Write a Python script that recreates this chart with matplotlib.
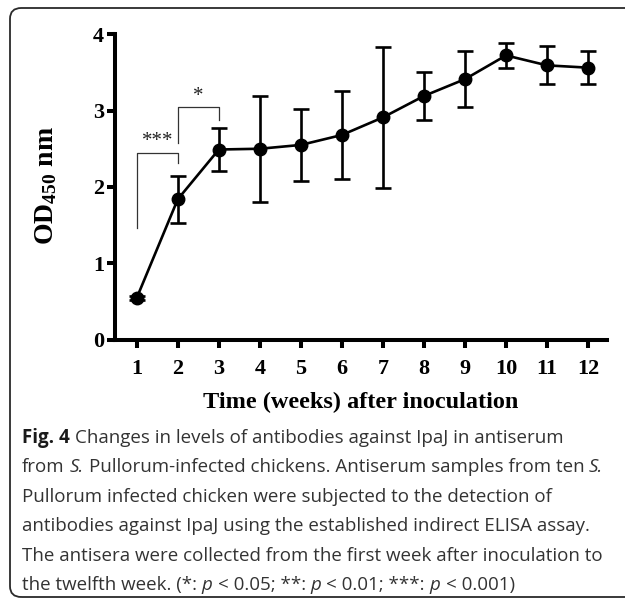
import matplotlib
matplotlib.use("Agg")
import matplotlib.pyplot as plt
from matplotlib.patches import FancyBboxPatch

# data
weeks = [1, 2, 3, 4, 5, 6, 7, 8, 9, 10, 11, 12]
od_mean = [0.55, 1.84, 2.49, 2.50, 2.55, 2.68, 2.91, 3.19, 3.41, 3.72, 3.59, 3.56]
od_err = [0.03, 0.31, 0.28, 0.69, 0.47, 0.58, 0.92, 0.31, 0.37, 0.16, 0.25, 0.22]
y_ticks = [0, 1, 2, 3, 4]

# significance brackets: (left week, right week, label, top, left leg end, right leg end)
sig_left = [1, 2]
sig_right = [2, 3]
sig_labels = ["***", "*"]
sig_top = [2.45, 3.04]
sig_left_end = [1.46, 2.57]
sig_right_end = [2.31, 2.87]

caption_lines = [
    [("Fig. 4", "bold"), (" Changes in levels of antibodies against IpaJ in antiserum", "normal")],
    [("from ", "normal"), ("S.", "italic"),
     (" Pullorum-infected chickens. Antiserum samples from ten ", "normal"), ("S.", "italic")],
    [("Pullorum infected chicken were subjected to the detection of", "normal")],
    [("antibodies against IpaJ using the established indirect ELISA assay.", "normal")],
    [("The antisera were collected from the first week after inoculation to", "normal")],
    [("the twelfth week. (*: ", "normal"), ("p", "italic"), (" < 0.05; **: ", "normal"),
     ("p", "italic"), (" < 0.01; ***: ", "normal"), ("p", "italic"), (" < 0.001)", "normal")],
]

W, H = 625, 599
plt.rcParams["mathtext.fontset"] = "custom"
plt.rcParams["mathtext.rm"] = "Liberation Serif:bold"
plt.rcParams["mathtext.bf"] = "Liberation Serif:bold"
plt.rcParams["mathtext.it"] = "Liberation Serif:bold"

fig = plt.figure(figsize=(W / 100, H / 100), dpi=100)
fig.patch.set_facecolor("white")


def px(x, y):
    return x / W, 1 - y / H


# rounded frame around the figure + caption (right edge runs off the image)
frame = FancyBboxPatch(px(10, 597), 640 / W, 589 / H,
                       boxstyle="round,pad=0,rounding_size=0.018",
                       transform=fig.transFigure, fill=False,
                       edgecolor="#2a2a2a", linewidth=1.3)
fig.patches.append(frame)

ax = fig.add_axes([115 / W, 1 - 340 / H, (607 - 115) / W, (340 - 34) / H])

serif = "Liberation Serif"
ax.errorbar(weeks, od_mean, yerr=od_err, color="black", lw=1.9,
            marker="o", ms=9, capsize=5.5, capthick=1.9, elinewidth=1.9,
            clip_on=False, zorder=3)

for x0, x1, lab, top, e0, e1 in zip(sig_left, sig_right, sig_labels,
                                     sig_top, sig_left_end, sig_right_end):
    ax.plot([x0, x0, x1, x1], [e0, top, top, e1], color="#333333", lw=0.9)
    ax.text((x0 + x1) / 2, top + 0.02, lab, ha="center", va="bottom",
            family=serif, fontsize=15, color="#222222")

ax.set_xlim(0.47, 12.46)
ax.set_ylim(0, 4)
ax.set_xticks(weeks)
ax.set_yticks(y_ticks)
ax.spines["top"].set_visible(False)
ax.spines["right"].set_visible(False)
for s in ("left", "bottom"):
    ax.spines[s].set_linewidth(2.9)
ax.tick_params(width=2.9, length=6, direction="out")
ax.tick_params(axis="x", pad=8)
ax.tick_params(axis="y", pad=2)
for lbl in ax.get_xticklabels() + ax.get_yticklabels():
    lbl.set_family(serif)
    lbl.set_weight("bold")
    lbl.set_fontsize(16)

fig.text(*px(46, 186), r"OD$_{450}$ nm", rotation=90, ha="center", va="center",
         family=serif, weight="bold", fontsize=20)
fig.text(*px(361, 408), "Time (weeks) after inoculation", ha="center",
         va="baseline", family=serif, weight="bold", fontsize=17.5)

# caption, drawn run by run so bold / italic parts can sit inline
renderer = fig.canvas.get_renderer()
cap_font = "Open Sans"
cap_size = 13.5


def measure(s, style):
    t = fig.text(0, 0, s, family=cap_font, fontsize=cap_size,
                 weight="bold" if style == "bold" else "normal",
                 style="italic" if style == "italic" else "normal")
    w = t.get_window_extent(renderer).width
    t.remove()
    return w


space_w = measure("a a", "normal") - measure("aa", "normal")

for i, runs in enumerate(caption_lines):
    base_y = 443 + i * 29.4
    x = 22.0
    for text, style in runs:
        lead = len(text) - len(text.lstrip(" "))
        trail = len(text) - len(text.rstrip(" "))
        core = text.strip(" ")
        x += lead * space_w
        t = fig.text(*px(x, base_y), core, family=cap_font, fontsize=cap_size,
                     weight="bold" if style == "bold" else "normal",
                     style="italic" if style == "italic" else "normal",
                     color="#1a1a1a" if style == "bold" else "#333333",
                     va="baseline", ha="left")
        x += t.get_window_extent(renderer).width
        x += trail * space_w

fig.savefig("out.png", dpi=100, facecolor="white")
